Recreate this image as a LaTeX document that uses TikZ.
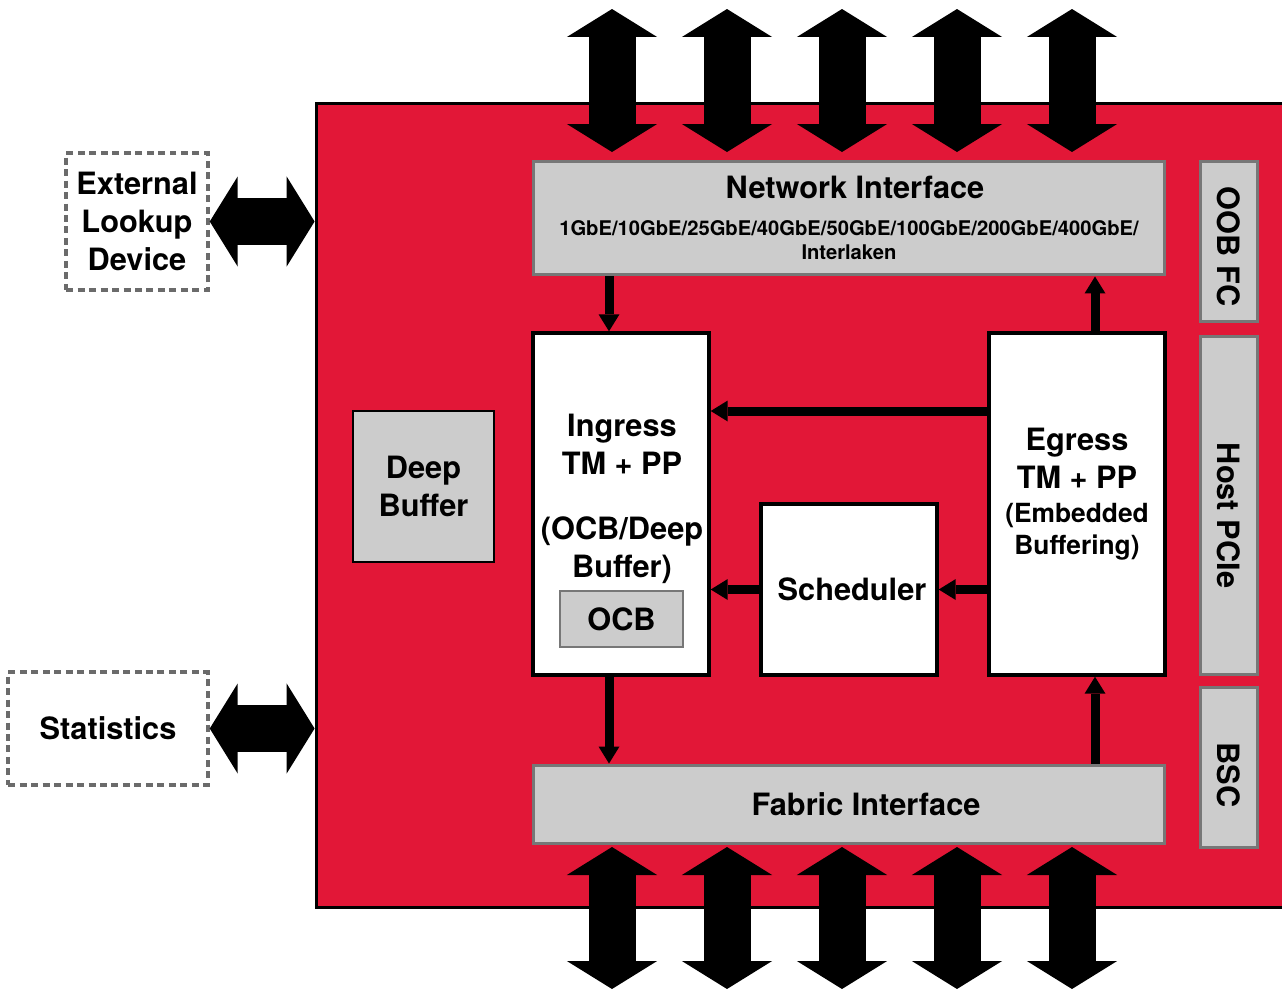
\documentclass[tikz,border=0pt]{standalone}
\usepackage{fontspec}
\setmainfont{TeX Gyre Heros}
\usetikzlibrary{arrows.meta}
\definecolor{chipred}{RGB}{226,23,55}
\definecolor{boxgray}{RGB}{204,204,204}
\definecolor{edgegray}{RGB}{119,119,119}
\newcommand\fsz{\fontsize{17.5}{21.5}\selectfont\bfseries}
\newcommand\fss{\fontsize{15}{18.4}\selectfont\bfseries}
\newcommand\fsm{\fontsize{11.5}{13.6}\selectfont\bfseries}
\tikzset{
  chipbox/.style={draw=black, fill=chipred, line width=0.06cm},
  whiteblk/.style={draw=black, fill=white, line width=0.07cm},
  grayblk/.style={draw=edgegray, fill=boxgray, line width=0.06cm},
  sideblk/.style={grayblk, rotate=-90, minimum height=1.14cm, font=\fsz},
  dashblk/.style={draw=edgegray!90!black, line width=0.07cm, dash pattern=on 0.14cm off 0.09cm, align=center, font=\fsz},
  conn/.style={line width=0.18cm, -{Triangle[length=0.34cm, width=0.42cm, line width=0pt]}},
  bigarr/.style={line width=0.94cm, {Triangle[length=0.56cm, width=1.8cm, line width=1pt]}-{Triangle[length=0.56cm, width=1.8cm, line width=1pt]}}
}
\begin{document}
\begin{tikzpicture}[x=0.02cm, y=-0.02cm, >=stealth]
	\useasboundingbox (0,0) rectangle (1282,988);
	%Khung chip
	\node[chipbox, minimum width=19.48cm, minimum height=16.1cm] (chip) at (803,505.5) {};
	%Cac khoi ben trong
	\node[grayblk, minimum width=12.64cm, minimum height=2.28cm, align=center, font=\fsm] (ni) at (849,218) {{\fsz\hspace*{0.24cm}Network Interface}\\[7.4pt]1GbE/10GbE/25GbE/40GbE/50GbE/100GbE/200GbE/400GbE/\\Interlaken};
	\node[whiteblk, minimum width=3.52cm, minimum height=6.84cm] (ingress) at (621,504) {};
	\node[align=center, font=\fsz] (ingtxt) at (622,499) {Ingress\\TM + PP\\[15.4pt](OCB/Deep\\Buffer)};
	\node[grayblk, line width=0.04cm, minimum width=2.46cm, minimum height=1.12cm, font=\fsz] (ocb) at (621.5,619) {OCB};
	\node[whiteblk, minimum width=3.52cm, minimum height=6.84cm] (egress) at (1077,504) {};
	\node[align=center, font=\fsz] (egtxt) at (1077,494) {Egress\\TM + PP\\[-2.2pt]{\fss (Embedded}\\[-3.1pt]{\fss Buffering)}};
	\node[whiteblk, minimum width=3.52cm, minimum height=3.42cm, font=\fsz] (sched) at (849,589.5) {\hspace*{0.12cm}Scheduler};
	\node[grayblk, draw=black, line width=0.04cm, minimum width=2.82cm, minimum height=3.02cm, align=center, font=\fsz] (deep) at (423.5,486.5) {Deep\\Buffer};
	\node[grayblk, minimum width=12.64cm, minimum height=1.56cm, font=\fsz] (fi) at (849,804) {\hspace*{0.68cm}Fabric Interface};
	%Cac khoi ben phai
	\node[sideblk, minimum width=3.22cm] (oob) at (1228.5,241.5) {\hspace*{0.2cm}OOB FC};
	\node[sideblk, minimum width=6.78cm] (pcie) at (1228.5,505.5) {\hspace*{0.4cm}Host PCIe};
	\node[sideblk, minimum width=3.22cm] (bsc) at (1228.5,767.5) {\hspace*{0.3cm}BSC};
	%Cac khoi ben ngoai
	\node[dashblk, minimum width=2.84cm, minimum height=2.74cm] (ext) at (137,221.5) {External\\Lookup\\Device};
	\node[dashblk, minimum width=4.0cm, minimum height=2.26cm] (stats) at (108,728.5) {Statistics};
	%Mui ten lon
	\draw[bigarr] (ext.east) -- (ext.east -| chip.west);
	\draw[bigarr] (stats.east) -- (stats.east -| chip.west);
	\foreach \x [count=\i] in {612,727,842,957,1072}{
		\coordinate (nt\i) at (\x,9);  \coordinate (nb\i) at (\x,152);
		\coordinate (ft\i) at (\x,847); \coordinate (fb\i) at (\x,989);
		\draw[bigarr] (nt\i) -- (nb\i);
		\draw[bigarr] (ft\i) -- (fb\i);
	}
	%Mui ten giua cac khoi
	\coordinate (lx) at (609,0); \coordinate (rx) at (1095,0); \coordinate (ty) at (0,411);
	\draw[conn] (ni.south -| lx) -- (ingress.north -| lx);
	\draw[conn] (egress.north -| rx) -- (ni.south -| rx);
	\draw[conn] (egress.west |- ty) -- (ingress.east |- ty);
	\draw[conn] (sched.west) -- (ingress.east |- sched.west);
	\draw[conn] (egress.west |- sched.east) -- (sched.east);
	\draw[conn] (ingress.south -| lx) -- (fi.north -| lx);
	\draw[conn] (fi.north -| rx) -- (egress.south -| rx);
\end{tikzpicture}
\end{document}
